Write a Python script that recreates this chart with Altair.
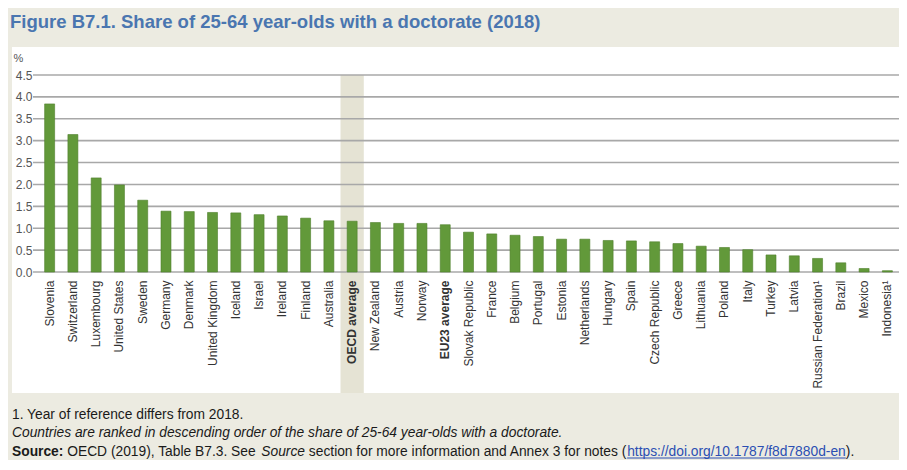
import altair as alt
import pandas as pd

# ---------------- data ----------------
countries = [
    "Slovenia", "Switzerland", "Luxembourg", "United States", "Sweden", "Germany",
    "Denmark", "United Kingdom", "Iceland", "Israel", "Ireland", "Finland",
    "Australia", "OECD average", "New Zealand", "Austria", "Norway", "EU23 average",
    "Slovak Republic", "France", "Belgium", "Portugal", "Estonia", "Netherlands",
    "Hungary", "Spain", "Czech Republic", "Greece", "Lithuania", "Poland", "Italy",
    "Turkey", "Latvia", "Russian Federation\u00b9", "Brazil", "Mexico", "Indonesia\u00b9",
]
shares = [
    3.84, 3.14, 2.15, 1.99, 1.64, 1.39,
    1.38, 1.36, 1.35, 1.31, 1.28, 1.23,
    1.17, 1.16, 1.13, 1.11, 1.11, 1.08,
    0.91, 0.87, 0.84, 0.81, 0.75, 0.75,
    0.72, 0.71, 0.69, 0.65, 0.59, 0.56, 0.51,
    0.39, 0.37, 0.31, 0.21, 0.08, 0.03,
]
y_ticks = [0.0, 0.5, 1.0, 1.5, 2.0, 2.5, 3.0, 3.5, 4.0, 4.5]
highlight_label = "OECD average"
bold_labels = ["OECD average", "EU23 average"]

title_text = "Figure B7.1. Share of 25-64 year-olds with a doctorate (2018)"
note1 = "1. Year of reference differs from 2018."
note2 = "Countries are ranked in descending order of the share of 25-64 year-olds with a doctorate."
src_bold = "Source:"
src_a = " OECD (2019), Table B7.3. See "
src_italic = "Source"
src_b = " section for more information and Annex 3 for notes ("
src_link = "https://doi.org/10.1787/f8d7880d-en"
src_c = ")."

# ---------------- layout / style ----------------
W, H = 861, 197
PANEL_BOTTOM = 318
BG = "#ecebe1"
FONT = "Liberation Sans, Arial, sans-serif"
NOTE_FS = 13.8

# Arial / Liberation Sans advance widths (per 1000 em), used to place text runs
_REG = {" ": 278, "(": 333, ")": 333, ",": 278, "-": 333, ".": 278, "/": 278, ":": 278,
        "0": 556, "1": 556, "2": 556, "3": 556, "4": 556, "5": 556, "6": 556, "7": 556,
        "8": 556, "9": 556, "A": 667, "B": 667, "C": 722, "D": 722, "E": 667, "F": 611,
        "O": 778, "S": 667, "T": 611, "a": 556, "b": 556, "c": 500, "d": 556, "e": 556,
        "f": 278, "g": 556, "h": 556, "i": 222, "j": 222, "k": 500, "l": 222, "m": 833,
        "n": 556, "o": 556, "p": 556, "r": 333, "s": 500, "t": 278, "u": 556, "v": 500,
        "w": 722, "x": 500, "y": 500}
_BOLD = {"S": 667, "o": 611, "u": 611, "r": 389, "c": 556, "e": 556, ":": 333}


def tw(s, fs, bold=False):
    table = _BOLD if bold else _REG
    return sum(table.get(ch, 556) for ch in s) * fs / 1000.0


one = pd.DataFrame({"k": [0]})


def text_layer(txt, x, y, **kw):
    params = dict(align="left", baseline="alphabetic", font=FONT, fontSize=NOTE_FS, color="#1a1a1a")
    params.update(kw)
    return alt.Chart(pd.DataFrame({"t": [txt]})).mark_text(**params).encode(
        text="t:N", x=alt.value(x), y=alt.value(y)
    )


df = pd.DataFrame({"Country": countries, "Share": shares})

x_scale = alt.Scale(domain=countries, paddingInner=0, paddingOuter=0)
y_scale = alt.Scale(domain=[0, 4.5], nice=False)

x_axis = alt.Axis(
    title=None, labelAngle=270, labelFont=FONT, labelFontSize=12, labelColor="#333333",
    labelPadding=8, ticks=False, domain=False, grid=False, labelOverlap=False,
    labelLimit=200, zindex=1,
    labelFontWeight={
        "condition": {"test": "indexof(%s, datum.value) >= 0" % str(bold_labels), "value": "bold"},
        "value": "normal",
    },
)
y_axis = alt.Axis(
    title="%", titleAngle=0, titleX=-20, titleY=-17, titleAlign="center",
    titleBaseline="middle", titleFontWeight="normal", titleFont=FONT, titleFontSize=11,
    titleColor="#555555", values=y_ticks, format=".1f", labelFont=FONT, labelFontSize=12,
    labelColor="#555555", labelPadding=6, ticks=False, domain=False, grid=False, zindex=1,
)

panel = alt.Chart(one).mark_rect(color="white").encode(
    x=alt.value(-26), x2=alt.value(W), y=alt.value(-28), y2=alt.value(PANEL_BOTTOM)
)

shade = alt.Chart(df[df["Country"] == highlight_label]).mark_rect(color="#e5e3d4").encode(
    x=alt.X("Country:N", scale=x_scale, axis=x_axis),
    y=alt.value(0), y2=alt.value(PANEL_BOTTOM),
)

grid = alt.Chart(pd.DataFrame({"tick": y_ticks})).mark_rule(color="#a8a8a8", strokeWidth=1.6).encode(
    y=alt.Y("tick:Q", scale=y_scale, axis=y_axis),
    x=alt.value(-5), x2=alt.value(W),
)

bars = alt.Chart(df).mark_bar(size=10, color="#62993a", stroke="#4f7f2c", strokeWidth=0.6).encode(
    x=alt.X("Country:N", scale=x_scale, axis=x_axis),
    y=alt.Y("Share:Q", scale=y_scale, axis=y_axis),
)

title = text_layer(title_text, -28, -47, font="Liberation Sans Narrow, Arial Narrow, Liberation Sans, sans-serif",
                   fontSize=18.5, fontWeight="bold", color="#4a76b0")

X0 = -26
L1, L2, L3 = 344, 362, 381
n1 = text_layer(note1, X0, L1)
n2 = text_layer(note2, X0, L2, fontStyle="italic")

x_a = X0 + tw(src_bold, NOTE_FS, bold=True)
x_i = x_a + tw(src_a, NOTE_FS)
x_b = x_i + tw(src_italic, NOTE_FS)
x_l = x_b + tw(src_b, NOTE_FS)
x_c = x_l + tw(src_link, NOTE_FS)

s_bold = text_layer(src_bold, X0, L3, fontWeight="bold")
s_a = text_layer(src_a.strip(), x_a + tw(" ", NOTE_FS), L3)
s_i = text_layer(src_italic, x_i, L3, fontStyle="italic")
s_b = text_layer(src_b.strip(), x_b + tw(" ", NOTE_FS), L3)
s_l = text_layer(src_link, x_l, L3, color="#2b4fb3")
s_c = text_layer(src_c, x_c, L3)
underline = alt.Chart(one).mark_rule(color="#2b4fb3", strokeWidth=1).encode(
    x=alt.value(x_l), x2=alt.value(x_c), y=alt.value(L3 + 2)
)

chart = alt.layer(
    panel, shade, grid, bars, title, n1, n2, s_bold, s_a, s_i, s_b, s_l, s_c, underline
).properties(
    width=W, height=H,
    autosize=alt.AutoSizeParams(type="none"),
    padding={"left": 30, "top": 67, "right": 0, "bottom": 188},
    background=BG,
).configure_view(strokeWidth=0)

chart.save("out.html", embed_options={"renderer": "svg", "actions": False})
